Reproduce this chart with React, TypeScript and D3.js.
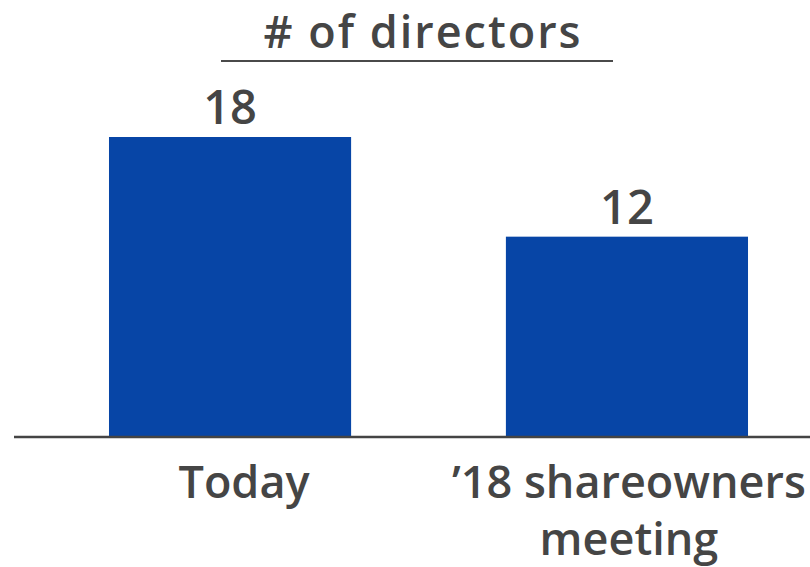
import React from "react";
import * as d3 from "d3";

const categories = ["Today", "’18 shareowners|meeting"];
const values = [18, 12];
const valueLabels = ["18", "12"];
const title = "# of directors";

const W = 810;
const H = 567;
const FONT = "'Open Sans', 'Noto Sans', sans-serif";
const TEXT = "#454545";
const BAR = "#0745A6";

export default function App() {
  const x = d3
    .scaleBand<string>()
    .domain(categories)
    .range([15, 842])
    .paddingInner(0.39)
    .paddingOuter(0.2368);
  const y = d3.scaleLinear().domain([0, 18]).range([436, 137]);
  const labelDx = [14, 2];

  return (
    <svg
      width={W}
      height={H}
      style={{ position: "fixed", left: 0, top: 0, background: "#fff" }}
      fontFamily={FONT}
    >
      <rect width={W} height={H} fill="#fff" />
      <text
        x={423}
        y={48}
        textAnchor="middle"
        fontSize={45}
        fontWeight={600}
        letterSpacing={2}
        fill={TEXT}
      >
        {title}
      </text>
      <line x1={221} x2={613} y1={61} y2={61} stroke="#4a4a4a" strokeWidth={2} />
      {categories.map((c, i) => {
        const bx = x(c)!;
        const bw = x.bandwidth();
        const cx = bx + bw / 2;
        const lines = c.split("|");
        return (
          <g key={c}>
            <rect x={bx} y={y(values[i])} width={bw} height={y(0) - y(values[i])} fill={BAR} />
            <text
              x={cx}
              y={y(values[i]) - 13}
              textAnchor="middle"
              fontSize={47}
              fontWeight={600}
              fill={TEXT}
            >
              {valueLabels[i]}
            </text>
            {lines.map((l, j) => (
              <text
                key={j}
                x={cx + labelDx[i]}
                y={498 + j * 57}
                textAnchor="middle"
                fontSize={45}
                fontWeight={600}
                fill={TEXT}
              >
                {l}
              </text>
            ))}
          </g>
        );
      })}
      <line x1={14} x2={810} y1={437} y2={437} stroke="#444" strokeWidth={2.5} />
    </svg>
  );
}
